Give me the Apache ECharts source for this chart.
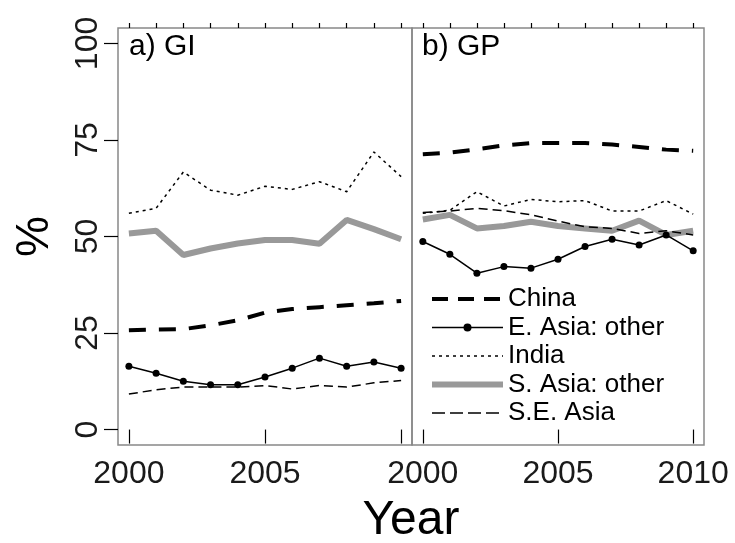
<!DOCTYPE html>
<html>
<head>
<meta charset="utf-8">
<script src="https://cdn.jsdelivr.net/npm/echarts@6/dist/echarts.min.js"></script>
<style>
html,body{margin:0;padding:0;background:#fff;}
#chart{width:735px;height:543px;}
</style>
</head>
<body>
<div id="chart"></div>
<script>
const years = [2000,2001,2002,2003,2004,2005,2006,2007,2008,2009,2010];
const majorTicks = [2000,2005,2010];
const yTicks = [0,25,50,75,100];
const seriesNames = ['China','E. Asia: other','India','S. Asia: other','S.E. Asia'];
const panelLabels = ['a) GI','b) GP'];

// Panel a) GI
const giChina  = [25.7,25.9,26.0,27.0,28.3,30.3,31.2,31.7,32.2,32.7,33.3];
const giEAsia  = [16.4,14.6,12.5,11.6,11.6,13.6,15.9,18.5,16.4,17.5,15.9];
const giIndia  = [56.0,57.3,66.7,62.0,60.7,63.0,62.2,64.2,61.6,71.9,65.5];
const giSAsia  = [50.8,51.5,45.2,46.9,48.2,49.1,49.1,48.1,54.3,51.9,49.3];
const giSEAsia = [9.2,10.3,11.0,11.0,11.0,11.4,10.5,11.4,11.0,12.1,12.7];

// Panel b) GP
const gpChina  = [71.3,71.7,72.6,73.6,74.2,74.2,74.2,73.8,73.2,72.5,72.2];
const gpEAsia  = [48.7,45.4,40.5,42.2,41.8,44.1,47.4,49.3,47.8,50.4,46.3];
const gpIndia  = [56.0,56.8,61.6,57.9,59.6,59.0,59.3,56.6,56.6,59.3,55.8];
const gpSAsia  = [54.4,55.6,52.1,52.7,53.8,52.7,52.1,51.5,54.1,50.4,51.5];
const gpSEAsia = [56.2,56.6,57.3,56.7,55.6,54.0,52.5,52.1,50.8,51.5,50.4];

const FONT = '"Liberation Sans", Arial, sans-serif';
const styles = {
  'China':          {lineStyle:{color:'#000',width:4,type:[17,13]}, symbol:'none'},
  'E. Asia: other': {lineStyle:{color:'#000',width:1.5,type:'solid'}, symbol:'circle'},
  'India':          {lineStyle:{color:'#000',width:1.5,type:[3,4]}, symbol:'none'},
  'S. Asia: other': {lineStyle:{color:'#999',width:6,type:'solid'}, symbol:'none'},
  'S.E. Asia':      {lineStyle:{color:'#000',width:1.5,type:[9,5]}, symbol:'none'}
};

function pairs(vals){ return years.map((y,i)=>[y, vals[i]]); }
function mkSeries(name, vals, idx){
  const s = styles[name];
  return {
    type:'line', name:name, xAxisIndex:idx, yAxisIndex:idx,
    data:pairs(vals),
    symbol:s.symbol, symbolSize:7, showSymbol: s.symbol !== 'none',
    itemStyle:{color: s.lineStyle.color},
    lineStyle:s.lineStyle,
    z: name === 'S. Asia: other' ? 1 : 2,
    animation:false, silent:true
  };
}

const panels = [
  [giChina, giEAsia, giIndia, giSAsia, giSEAsia],
  [gpChina, gpEAsia, gpIndia, gpSAsia, gpSEAsia]
];
const series = [];
panels.forEach((p, pi) => {
  seriesNames.forEach((n, si) => series.push(mkSeries(n, p[si], pi)));
});

function xMinor(gi){
  return {
    type:'value', gridIndex:gi, min:1999.6, max:2010.4,
    axisLine:{show:false}, splitLine:{show:false},
    axisTick:{show:true, customValues:years, length:5, lineStyle:{color:'#000',width:1.2}},
    axisLabel:{show:false}
  };
}
function xMajor(gi, labels){
  return {
    type:'value', gridIndex:gi, min:1999.6, max:2010.4,
    axisLine:{show:false}, splitLine:{show:false},
    axisTick:{show:true, customValues:majorTicks, length:14, lineStyle:{color:'#000',width:1.2}},
    axisLabel:{show:true, customValues:labels, margin:13, fontSize:32, color:'#1a1a1a', fontFamily:FONT,
      formatter:v=>String(v)}
  };
}

const option = {
  backgroundColor:'#fff',
  animation:false,
  grid:[
    {left:118, top:28, width:294, height:417, show:true, borderColor:'#888', borderWidth:1.5, backgroundColor:'transparent'},
    {left:412, top:28, width:292, height:417, show:true, borderColor:'#888', borderWidth:1.5, backgroundColor:'transparent'}
  ],
  xAxis:[ xMajor(0,[2000,2005]), xMajor(1,majorTicks), xMinor(0), xMinor(1) ],
  yAxis:[
    {type:'value', gridIndex:0, min:-4, max:104,
     axisLine:{show:false}, splitLine:{show:false},
     axisTick:{show:true, customValues:yTicks, length:14, lineStyle:{color:'#000',width:1.2}},
     axisLabel:{show:true, customValues:yTicks, rotate:90, margin:14, fontSize:32, color:'#1a1a1a', fontFamily:FONT},
     name:'%', nameLocation:'middle', nameRotate:90, nameGap:60,
     nameTextStyle:{fontSize:46, color:'#000', fontFamily:FONT}},
    {type:'value', gridIndex:1, min:-4, max:104,
     axisLine:{show:false}, splitLine:{show:false}, axisTick:{show:false}, axisLabel:{show:false}}
  ],
  legend:{
    orient:'vertical', left:429, top:285, padding:0,
    itemWidth:71, itemHeight:10, itemGap:0.5, itemTextGap:6,
    textStyle:{fontSize:26, color:'#000', fontFamily:FONT, lineHeight:22, padding:[6,0,0,0]},
    selectedMode:false,
    data: seriesNames.map(n => ({
      name:n,
      lineStyle:{color:styles[n].lineStyle.color, width:styles[n].lineStyle.width,
                 type:(n === 'China' ? [16,10] : n === 'S.E. Asia' ? [13,5] : styles[n].lineStyle.type)},
      itemStyle: styles[n].symbol === 'none' ? {opacity:0} : {color:'#000'}
    }))
  },
  graphic:[
    {type:'text', left:129, top:32, style:{text:panelLabels[0], fontSize:30, fill:'#000', fontFamily:FONT}},
    {type:'text', left:422, top:32, style:{text:panelLabels[1], fontSize:30, fill:'#000', fontFamily:FONT}},
    {type:'text', x:411, y:521, style:{text:'Year', fontSize:48, fill:'#000', fontFamily:FONT, textAlign:'center', textVerticalAlign:'middle'}}
  ],
  series: series
};
const chart = echarts.init(document.getElementById('chart'), null, {renderer:'canvas'});
chart.setOption(option);
</script>
</body>
</html>
